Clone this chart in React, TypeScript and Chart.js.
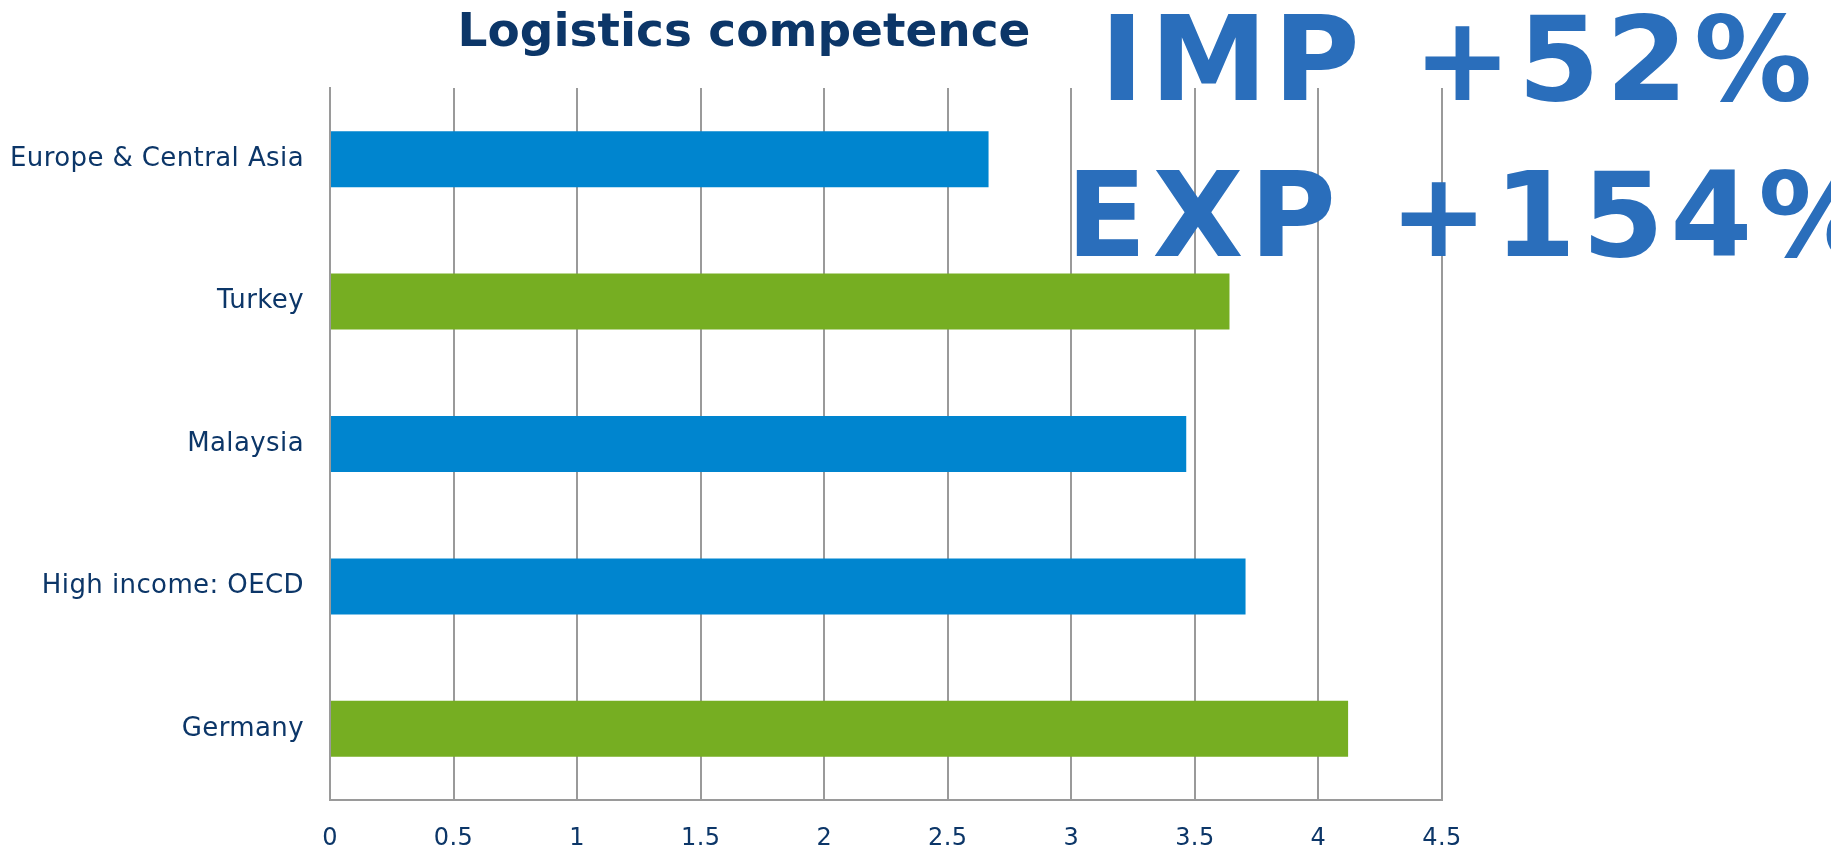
import React, { useEffect, useRef } from "react";
import { Chart, registerables } from "chart.js";

Chart.register(...registerables);

const categories = ["Europe & Central Asia", "Turkey", "Malaysia", "High income: OECD", "Germany"];
const values = [2.665, 3.64, 3.465, 3.705, 4.12];
const barColors = ["#0085cf", "#76ae22", "#0085cf", "#0085cf", "#76ae22"];
const titleText = "Logistics competence";
const bigLines = ["IMP +52%", "EXP +154%"];

const NAVY = "#0c3668";
const BIG = "#2a6ebb";
const GRID = "#9a9a9a";

export default function App() {
  const ref = useRef<HTMLCanvasElement | null>(null);

  useEffect(() => {
    document.body.style.margin = "0";
    const canvas = ref.current;
    if (!canvas) return;

    const spacing = {
      id: "letterSpacingText",
      beforeDraw(chart: any) {
        try { (chart.ctx as any).letterSpacing = "0.4px"; } catch (e) {}
      },
    };

    const overlay = {
      id: "overlayText",
      afterDraw(chart: any) {
        const ctx = chart.ctx;
        ctx.save();
        try { (ctx as any).letterSpacing = "0px"; } catch (e) {}
        ctx.fillStyle = NAVY;
        ctx.font = "bold 47px 'DejaVu Sans'";
        ctx.textAlign = "center";
        ctx.textBaseline = "alphabetic";
        ctx.fillText(titleText, 744, 46);

        ctx.fillStyle = BIG;
        ctx.font = "bold 118px 'DejaVu Sans'";
        ctx.textAlign = "left";
        try { (ctx as any).letterSpacing = "6px"; } catch (e) {}
        ctx.fillText(bigLines[0], 1100, 100);
        ctx.fillText(bigLines[1], 1066, 256);
        ctx.restore();
      },
    };

    const chart = new Chart(canvas, {
      type: "bar",
      data: {
        labels: categories,
        datasets: [
          {
            data: values,
            backgroundColor: barColors,
            borderWidth: 0,
            categoryPercentage: 1,
            barPercentage: 0.393,
          },
        ],
      },
      options: {
        indexAxis: "y",
        responsive: false,
        animation: false,
        devicePixelRatio: 1,
        layout: { padding: { top: 88, right: 389, left: 0, bottom: 0 } },
        plugins: {
          legend: { display: false },
          title: { display: false },
          tooltip: { enabled: false },
        },
        scales: {
          x: {
            type: "linear",
            position: "bottom",
            min: 0,
            max: 4.5,
            ticks: {
              stepSize: 0.5,
              padding: 24,
              color: NAVY,
              font: { family: "'DejaVu Sans'", size: 24 },
              maxRotation: 0,
              callback: (v: any) => `${Math.round(Number(v) * 10) / 10}`,
            },
            grid: { color: GRID, lineWidth: 2, drawTicks: false },
            border: { display: true, color: GRID, width: 2 },
            afterFit(scale: any) {
              scale.height = 50;
            },
          },
          y: {
            type: "category",
            ticks: {
              padding: 26,
              color: NAVY,
              font: { family: "'DejaVu Sans'", size: 26 },
            },
            grid: { display: false, drawTicks: false },
            border: { display: true, color: GRID, width: 2 },
            afterFit(scale: any) {
              scale.width = 330;
            },
          },
        },
      },
      plugins: [spacing, overlay],
    });

    return () => chart.destroy();
  }, []);

  return (
    <div style={{ width: 1831, height: 850, position: "relative", background: "#fff" }}>
      <canvas ref={ref} width={1831} height={850} style={{ display: "block" }} />
    </div>
  );
}
